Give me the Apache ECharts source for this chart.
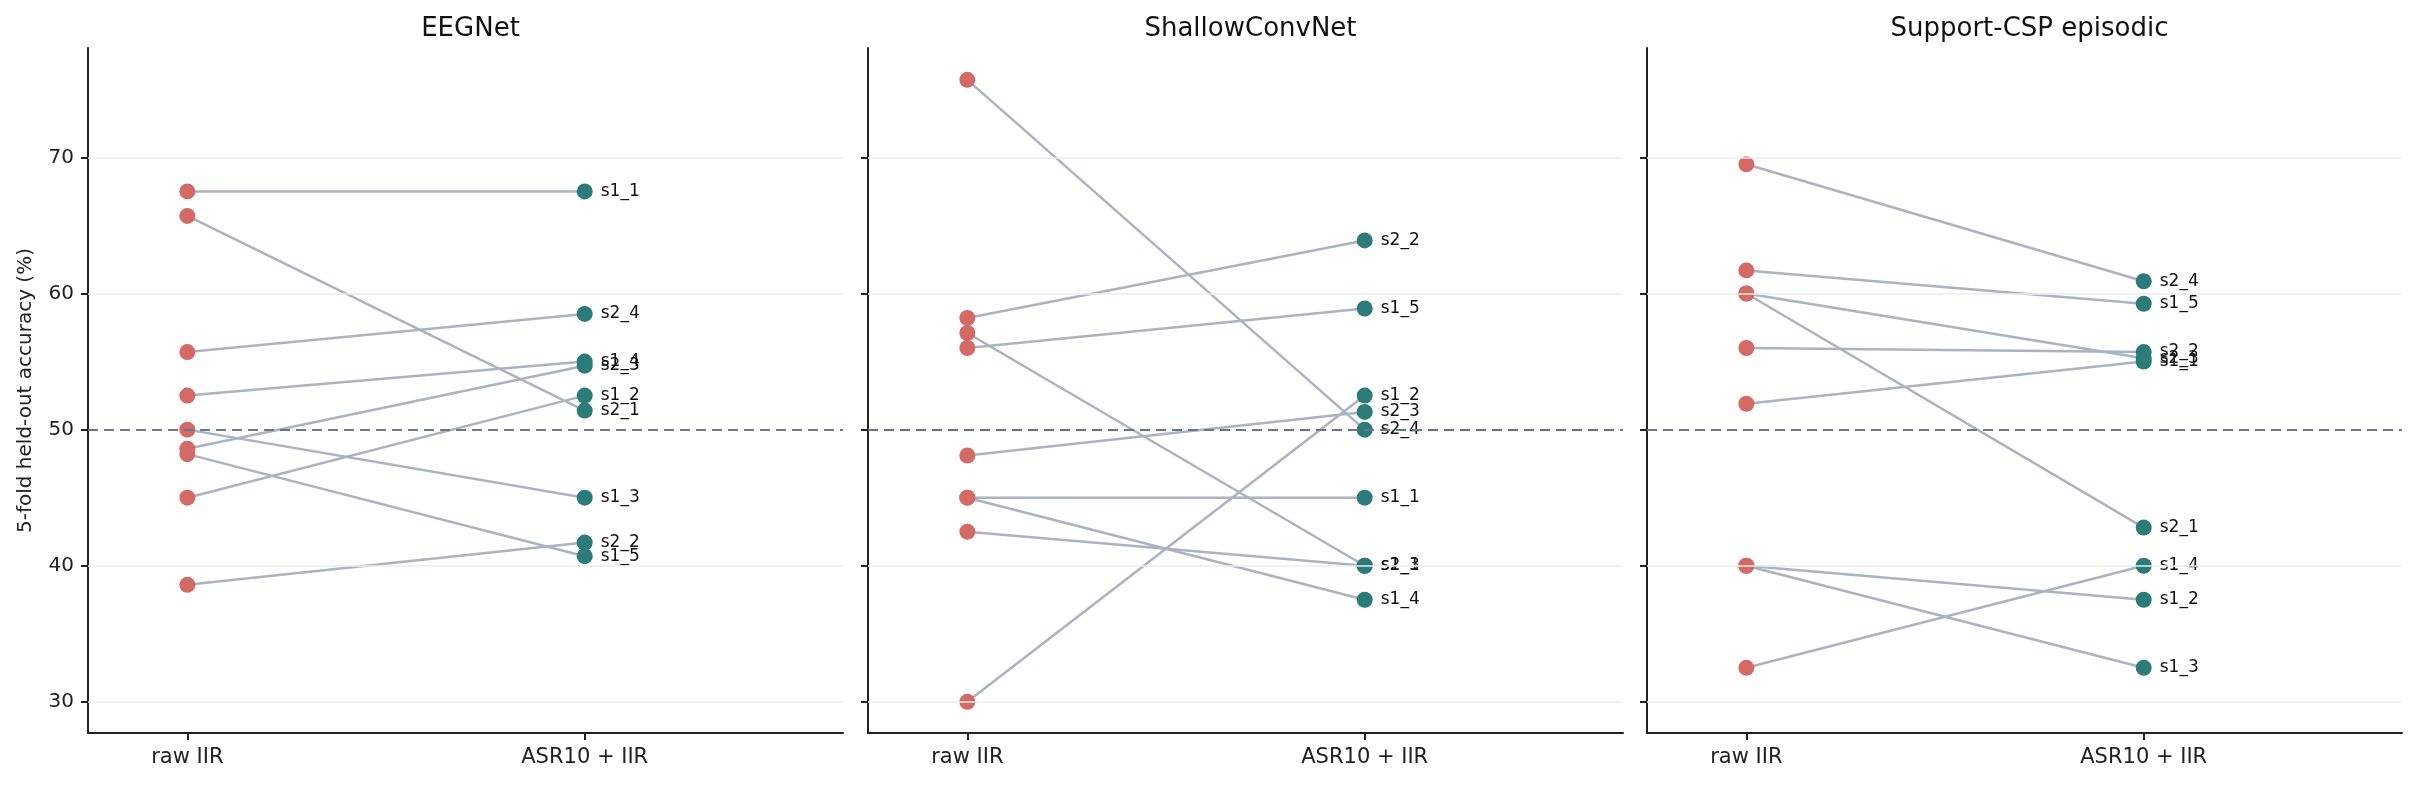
<!DOCTYPE html>
<html>
<head>
<meta charset="utf-8">
<script src="https://cdn.jsdelivr.net/npm/echarts@6/dist/echarts.min.js"></script>
<style>
  html, body { margin: 0; padding: 0; background: #fff; }
  #main { width: 2418px; height: 786px; }
</style>
</head>
<body>
<div id="main"></div>
<script>
var conditions = ['raw IIR', 'ASR10 + IIR'];
var yTicks = [30, 40, 50, 60, 70];
var chanceLevel = 50;

var panelTitles = ['EEGNet', 'ShallowConvNet', 'Support-CSP episodic'];

// EEGNet
var eegSubjects = ['s1_1', 's1_2', 's1_3', 's1_4', 's1_5', 's2_1', 's2_2', 's2_3', 's2_4'];
var eegRaw      = [67.5, 45.0, 50.0, 52.5, 48.2, 65.7, 38.6, 48.6, 55.7];
var eegAsr      = [67.5, 52.5, 45.0, 55.0, 40.7, 51.4, 41.7, 54.7, 58.5];

// ShallowConvNet
var shallowSubjects = ['s1_1', 's1_2', 's1_3', 's1_4', 's1_5', 's2_1', 's2_2', 's2_3', 's2_4'];
var shallowRaw      = [45.0, 30.0, 57.1, 45.0, 56.0, 42.5, 58.2, 48.1, 75.7];
var shallowAsr      = [45.0, 52.5, 40.0, 37.5, 58.9, 40.0, 63.9, 51.3, 50.0];

// Support-CSP episodic
var cspSubjects = ['s1_1', 's1_2', 's1_3', 's1_4', 's1_5', 's2_1', 's2_2', 's2_3', 's2_4'];
var cspRaw      = [51.9, 40.0, 40.0, 32.5, 61.7, 60.0, 56.0, 60.0, 69.5];
var cspAsr      = [55.0, 37.5, 32.5, 40.0, 59.25, 42.8, 55.7, 55.25, 60.9];

var panels = [
  { subjects: eegSubjects, raw: eegRaw, asr: eegAsr },
  { subjects: shallowSubjects, raw: shallowRaw, asr: shallowAsr },
  { subjects: cspSubjects, raw: cspRaw, asr: cspAsr }
];

var chart = echarts.init(document.getElementById('main'));

var gridLefts = [88, 868, 1647];
var gridWidth = 755;
var font = 'DejaVu Sans';

var grids = [], xAxes = [], yAxes = [], titles = [], series = [];

panels.forEach(function (p, i) {
  grids.push({ left: gridLefts[i], top: 48, width: gridWidth, height: 685 });

  titles.push({
    text: panelTitles[i],
    left: gridLefts[i] + gridWidth / 2,
    top: 11,
    textAlign: 'center',
    textStyle: { fontFamily: font, fontSize: 26, fontWeight: 'normal', color: '#111' }
  });

  xAxes.push({
    type: 'value', gridIndex: i, min: -0.25, max: 1.65,
    axisLine: { show: true, onZero: false, lineStyle: { color: '#222', width: 2 } },
    axisTick: { show: true, customValues: [0, 1], length: 7, lineStyle: { color: '#222', width: 2 } },
    axisLabel: {
      customValues: [0, 1], margin: 14,
      fontFamily: font, fontSize: 21, color: '#222',
      formatter: function (v) { return conditions[Math.round(v)]; }
    },
    splitLine: { show: false }
  });

  yAxes.push({
    type: 'value', gridIndex: i, min: 27.71, max: 78.04,
    name: i === 0 ? '5-fold held-out accuracy (%)' : '',
    nameLocation: 'middle', nameRotate: 90, nameGap: 52,
    nameTextStyle: { fontFamily: font, fontSize: 20, color: '#222' },
    axisLine: { show: true, onZero: false, lineStyle: { color: '#222', width: 2 } },
    axisTick: { show: true, customValues: yTicks, length: 7, lineStyle: { color: '#222', width: 2 } },
    axisLabel: {
      show: i === 0, customValues: yTicks, margin: 14,
      fontFamily: font, fontSize: 20, color: '#222'
    },
    splitLine: { show: false }
  });

  // grid lines + chance level
  var gridMarks = yTicks.filter(function (t) { return t !== chanceLevel; }).map(function (t) {
    return { yAxis: t, lineStyle: { color: '#ececec', width: 1.5, type: 'solid' } };
  });
  gridMarks.push({ yAxis: chanceLevel, lineStyle: { color: '#687690', width: 2, type: [10, 6] } });
  series.push({
    type: 'line', xAxisIndex: i, yAxisIndex: i, data: [], silent: true, z: 1,
    markLine: { symbol: 'none', silent: true, label: { show: false }, data: gridMarks }
  });

  p.subjects.forEach(function (s, k) {
    series.push({
      type: 'line', xAxisIndex: i, yAxisIndex: i, z: 2,
      symbol: 'none', silent: true,
      lineStyle: { color: '#a9b3c1', width: 2.5 },
      data: [[0, p.raw[k]], [1, p.asr[k]]]
    });
  });

  series.push({
    type: 'scatter', xAxisIndex: i, yAxisIndex: i, z: 3,
    symbolSize: 16,
    itemStyle: { color: '#d46a66', opacity: 1 },
    data: p.raw.map(function (v) { return [0, v]; })
  });

  series.push({
    type: 'scatter', xAxisIndex: i, yAxisIndex: i, z: 3,
    symbolSize: 16,
    itemStyle: { color: '#2b7b78', opacity: 1 },
    label: {
      show: true, position: 'right', distance: 8,
      fontFamily: font, fontSize: 17, color: '#111',
      formatter: function (d) { return p.subjects[d.dataIndex]; }
    },
    labelLayout: { hideOverlap: false },
    data: p.asr.map(function (v) { return [1, v]; })
  });
});

chart.setOption({
  animation: false,
  backgroundColor: '#fff',
  title: titles,
  grid: grids,
  xAxis: xAxes,
  yAxis: yAxes,
  series: series
});
</script>
</body>
</html>
